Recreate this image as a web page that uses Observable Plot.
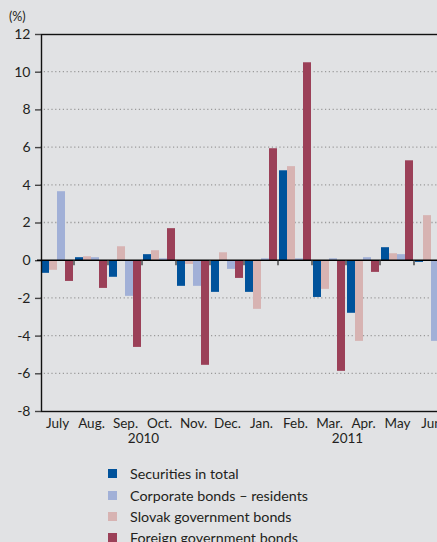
<!DOCTYPE html>
<html><head><meta charset="utf-8">
<script src="https://cdn.jsdelivr.net/npm/d3@7"></script>
<script src="https://cdn.jsdelivr.net/npm/@observablehq/plot@0.6"></script>
<style>
html,body{margin:0;padding:0;background:#e1e2e4;overflow:hidden;width:437px;height:542px;}
#wrap{position:relative;width:437px;height:542px;font-family:Lato, sans-serif;color:#231f20;overflow:hidden}
#chart{position:absolute;left:0;top:0;width:452px}
#unit{position:absolute;left:9px;top:9px;font-size:12.5px}
#legend{position:absolute;left:108px;top:463px}
.row{display:flex;align-items:center;height:21.4px;font-size:14.3px;white-space:nowrap}
.sw{width:9px;height:9px;margin-right:13px;flex:none}
</style></head><body><div id="wrap"><div id="chart"></div><div id="unit">(%)</div><div id="legend"></div></div>
<script>
const months = ["July","Aug.","Sep.","Oct.","Nov.","Dec.","Jan.","Feb.","Mar.","Apr.","May","Jun"];
const seriesNames = ["Securities in total","Corporate bonds – residents","Slovak government bonds","Foreign government bonds"];
const barOrder = ["Securities in total","Slovak government bonds","Corporate bonds – residents","Foreign government bonds"];
const seriesColors = ["#00529b","#a1b0d7","#d7b3b2","#9b4058"];
const securitiesTotal    = [-0.67, 0.16, -0.88, 0.32, -1.36, -1.68, -1.68, 4.77, -1.95, -2.79, 0.69, -0.09];
const corporateResidents = [ 3.66, 0.16, -1.89, 0.10, -1.36, -0.46,  0.10, 0.10,  0.10,  0.16, 0.32, -4.28];
const slovakGovernment   = [-0.51, 0.21,  0.74, 0.53, -0.20,  0.42, -2.58, 4.99, -1.52, -4.28, 0.37,  2.39];
const foreignGovernment  = [-1.10,-1.47, -4.60, 1.70, -5.55, -0.94,  5.94,10.50, -5.87, -0.62, 5.30, -1.00];
const yearLabels = ["2010","2011"];
const yearAfterMonth = ["Sep.","Mar."];
const yTicks = [-8,-6,-4,-2,0,2,4,6,8,10,12];
const gridTicks = [-6,-4,-2,2,4,6,8,10];

const valuesBySeries = [securitiesTotal, corporateResidents, slovakGovernment, foreignGovernment];
const data = [];
months.forEach((m, i) => seriesNames.forEach((s, k) => data.push({month: m, series: s, value: valuesBySeries[k][i]})));

const chart = Plot.plot({
  width: 452, height: 455,
  marginLeft: 37, marginRight: 2, marginTop: 34, marginBottom: 44,
  facet: {marginTop: 0, marginBottom: 0, marginLeft: 0, marginRight: 0},
  style: {background: "transparent", fontFamily: "Lato, sans-serif", fontSize: "13.5px", color: "#231f20", maxWidth: "none"},
  fx: {domain: months, paddingInner: 0.07, paddingOuter: 0.03, label: null, axis: null},
  x: {domain: barOrder, padding: 0, axis: null},
  y: {domain: [-8, 12], ticks: yTicks, label: null},
  color: {domain: seriesNames, range: seriesColors},
  marks: [
    Plot.barY(data, {fx: "month", x: "series", y: "value", fill: "series"}),
    Plot.frame({stroke: "#111", strokeWidth: 1.4, facet: "super"}),
    Plot.axisY({ticks: yTicks, tickSize: 6, tickPadding: 5, tickFormat: d => String(d), stroke: "#444", strokeWidth: 1.4, fontSize: 14, label: null}),
    Plot.axisFx({anchor: "bottom", tickSize: 0, tickPadding: 7, fontSize: 13.5, label: null}),
    Plot.text(yearLabels.map((y, i) => ({year: y, month: yearAfterMonth[i]})), {fx: "month", text: "year", frameAnchor: "bottom-right", dy: 31, dx: 2, textAnchor: "middle", fontSize: 13.5, fill: "#231f20"})
  ]
});
document.getElementById("chart").appendChild(chart);

// grid, zero line and boundary ticks from the library's own scales
const fx = chart.scale("fx"), y = chart.scale("y");
const svg = d3.select(chart);
const xLeft = 37, xRight = 452 - 2;
const grid = svg.insert("g", ":scope > g");
gridTicks.forEach(t => {
  grid.append("line").attr("x1", xLeft + 3).attr("x2", xRight).attr("y1", y.apply(t)).attr("y2", y.apply(t))
    .attr("stroke", "#9a9a9a").attr("stroke-width", 1.3).attr("stroke-dasharray", "1.2,2.6");
});
const y0 = y.apply(0);
svg.append("line").attr("x1", xLeft).attr("x2", xRight).attr("y1", y0).attr("y2", y0)
  .attr("stroke", "#000").attr("stroke-width", 1.6);
months.slice(1).forEach(m => {
  const xb = fx.apply(m) - (fx.step - fx.bandwidth) / 2;
  svg.append("line").attr("x1", xb).attr("x2", xb).attr("y1", y0).attr("y2", y0 + 5)
    .attr("stroke", "#333").attr("stroke-width", 1.3);
});

const legend = d3.select("#legend");
seriesNames.forEach((s, k) => {
  const row = legend.append("div").attr("class", "row");
  row.append("div").attr("class", "sw").style("background", seriesColors[k]);
  row.append("span").text(s);
});
</script></body></html>
